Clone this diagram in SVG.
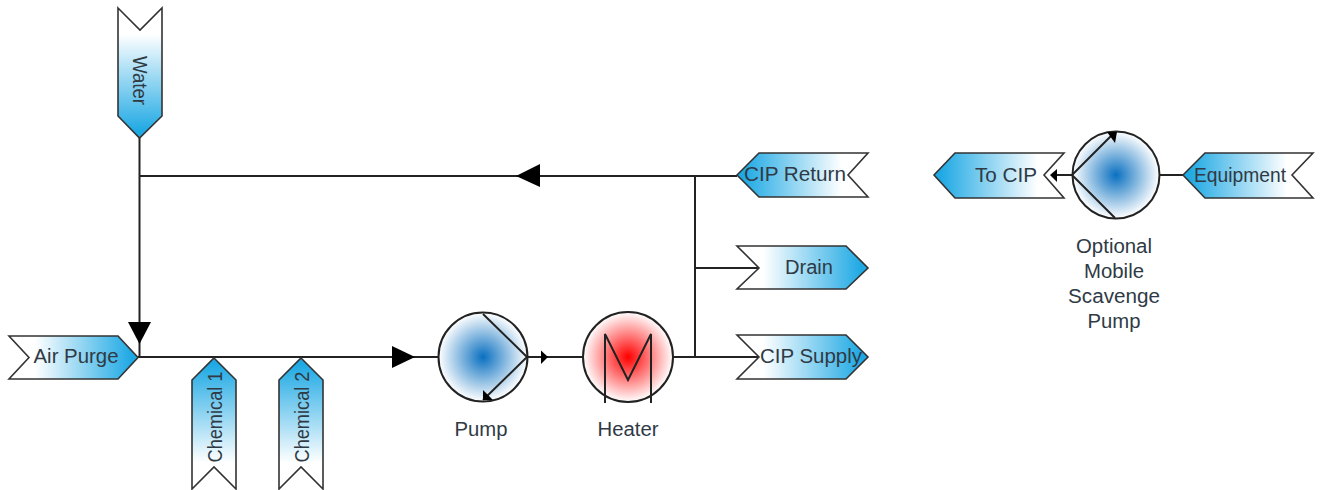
<svg xmlns="http://www.w3.org/2000/svg" width="1320" height="490" viewBox="0 0 1320 490">
<style>
text{font-family:"Liberation Sans",Arial,sans-serif;font-size:19.500px;fill:#2f3a45;text-anchor:middle}
.tag{stroke:#333;stroke-width:1.6;stroke-linejoin:miter}
.r{fill:url(#gr)}.l{fill:url(#gl)}.d{fill:url(#gd)}.u{fill:url(#gu)}
.circ{stroke:#222;stroke-width:2}
.ln{fill:none;stroke:#222;stroke-width:2}
.ah{fill:#000;stroke:none}
</style>
<defs>
<linearGradient id="gr" x1="0" y1="0" x2="1" y2="0"><stop offset="0.2" stop-color="#fff"/><stop offset="0.95" stop-color="#1fa9e4"/></linearGradient>
<linearGradient id="gl" x1="1" y1="0" x2="0" y2="0"><stop offset="0.2" stop-color="#fff"/><stop offset="0.95" stop-color="#1fa9e4"/></linearGradient>
<linearGradient id="gd" x1="0" y1="0" x2="0" y2="1"><stop offset="0.2" stop-color="#fff"/><stop offset="0.95" stop-color="#1fa9e4"/></linearGradient>
<linearGradient id="gu" x1="0" y1="1" x2="0" y2="0"><stop offset="0.2" stop-color="#fff"/><stop offset="0.95" stop-color="#1fa9e4"/></linearGradient>
<radialGradient id="gb"><stop offset="0" stop-color="#0a70c0"/><stop offset="1" stop-color="#fff"/></radialGradient>
<radialGradient id="gh"><stop offset="0" stop-color="#ff0000"/><stop offset="1" stop-color="#fff"/></radialGradient>
</defs>
<g id="connectors">
<path class="ln" d="M139.5 138V357"/>
<path class="ln" d="M139.5 176H737"/>
<path class="ln" d="M138 357H439"/>
<path class="ln" d="M527 357H583"/>
<path class="ln" d="M673 357H759"/>
<path class="ln" d="M695 176V357"/>
<path class="ln" d="M695 268H759"/>
<path class="ln" d="M1055 175H1072"/>
<path class="ln" d="M1159 175H1183"/>
<polygon class="ah" points="516,176 540,164 540,187"/>
<polygon class="ah" points="128,322 151,322 139.500,344"/>
<polygon class="ah" points="392,346 415,357 392,368"/>
<polygon class="ah" points="541,350.500 548,357 541,364"/>
<polygon class="ah" points="1050,175 1057,169 1057,182"/>
</g>
<g id="water"><polygon class="tag d" points="118,8 140,30 162,8 162,116 139.500,138 118,116"/><text transform="translate(132.500,80.500) rotate(90)" textLength="49" lengthAdjust="spacingAndGlyphs">Water</text></g>
<g id="air-purge"><polygon class="tag r" points="9,336 118,336 138,357.500 118,379 9,379 29,357.500"/><text x="76" y="363" textLength="85" lengthAdjust="spacingAndGlyphs">Air Purge</text></g>
<g id="chemical-1"><polygon class="tag u" points="214,358 236,380 236,489 214,467 192,489 192,380"/><text transform="translate(221.500,417) rotate(-90)" textLength="91" lengthAdjust="spacingAndGlyphs">Chemical 1</text></g>
<g id="chemical-2"><polygon class="tag u" points="301,358 323,380 323,489 301,467 279,489 279,380"/><text transform="translate(309,417) rotate(-90)" textLength="91" lengthAdjust="spacingAndGlyphs">Chemical 2</text></g>
<g id="pump"><circle class="circ" cx="483" cy="357" r="44.500" fill="url(#gb)"/><path class="ln" d="M483 314L527 357L483 400"/><polygon class="ah" points="483,390 483,400 493,400"/><text x="481" y="436" textLength="53" lengthAdjust="spacingAndGlyphs">Pump</text></g>
<g id="heater"><circle class="circ" cx="628" cy="357" r="45" fill="url(#gh)"/><path class="ln" d="M605 403V334L628 380L651 334V403"/><text x="628" y="436" textLength="61" lengthAdjust="spacingAndGlyphs">Heater</text></g>
<g id="cip-return"><polygon class="tag l" points="737,175 759,153 868,153 848,175 868,197 759,197"/><text x="795" y="181" textLength="102" lengthAdjust="spacingAndGlyphs">CIP Return</text></g>
<g id="drain"><polygon class="tag r" points="737,246 846,246 868,268 846,289 737,289 759,268"/><text x="809" y="273.500" textLength="48" lengthAdjust="spacingAndGlyphs">Drain</text></g>
<g id="cip-supply"><polygon class="tag r" points="737,335 846,335 868,357 846,379 737,379 759,357"/><text x="811" y="363" textLength="102" lengthAdjust="spacingAndGlyphs">CIP Supply</text></g>
<g id="to-cip"><polygon class="tag l" points="934,175 955,153 1064,153 1044,175 1064,198 955,198"/><text x="1006" y="181.500" textLength="62" lengthAdjust="spacingAndGlyphs">To CIP</text></g>
<g id="scavenge-pump"><circle class="circ" cx="1116" cy="175" r="43.500" fill="url(#gb)"/><path class="ln" d="M1115 218L1072 175L1115 132"/><polygon class="ah" points="1107,132 1117,132 1115,143"/></g>
<g id="equipment"><polygon class="tag l" points="1183,175 1205,153 1313,153 1292,175 1313,198 1205,198"/><text x="1240" y="181.500" textLength="92" lengthAdjust="spacingAndGlyphs">Equipment</text></g>
<g id="scavenge-label"><text x="1114" y="253" textLength="76" lengthAdjust="spacingAndGlyphs">Optional</text><text x="1114" y="278" textLength="60" lengthAdjust="spacingAndGlyphs">Mobile</text><text x="1114" y="303" textLength="92" lengthAdjust="spacingAndGlyphs">Scavenge</text><text x="1114" y="328" textLength="53" lengthAdjust="spacingAndGlyphs">Pump</text></g>
</svg>
